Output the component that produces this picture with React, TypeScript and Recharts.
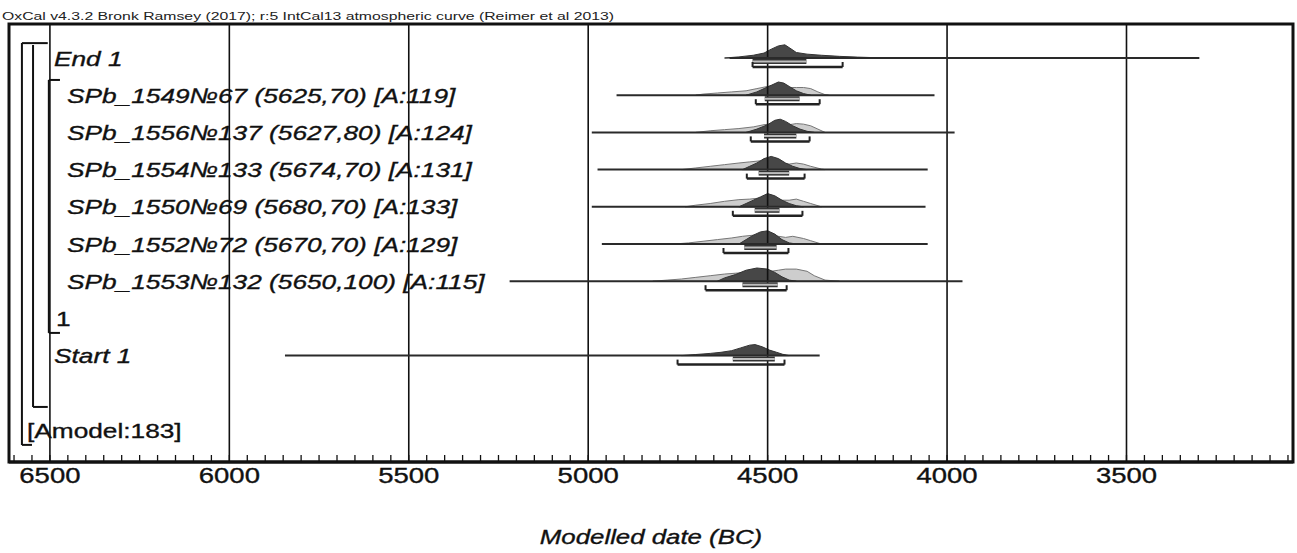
import React from 'react';
import { ComposedChart, Area, XAxis, YAxis, ReferenceLine, ReferenceArea } from 'recharts';

// ---------- text ----------
const HEADER = 'OxCal v4.3.2 Bronk Ramsey (2017); r:5 IntCal13 atmospheric curve (Reimer et al 2013)';
const AXIS_TITLE = 'Modelled date (BC)';

// ---------- rows (y categories) ----------
const labelRows = [0, 1, 2, 3, 4, 5, 6, 7, 8, 10];
const rowLabels = [
  'End 1',
  'SPb_1549№67 (5625,70) [A:119]',
  'SPb_1556№137 (5627,80) [A:124]',
  'SPb_1554№133 (5674,70) [A:131]',
  'SPb_1550№69 (5680,70) [A:133]',
  'SPb_1552№72 (5670,70) [A:129]',
  'SPb_1553№132 (5650,100) [A:115]',
  '1',
  'Start 1',
  '[Amodel:183]',
];
const rowItalic = [true, true, true, true, true, true, true, false, true, false];
const rowIndent = [45, 58, 58, 58, 58, 58, 58, 47, 45, 18];

// ---------- axis ----------
const majorTicks = [6500, 6000, 5500, 5000, 4500, 4000, 3500];
const X_MIN = 3036;
const X_MAX = 6614;
const Y_MIN = -0.914;
const Y_MAX = 10.86;

// ---------- distributions: [year BC, relative density] ----------
const end1Post = [[4620, 0], [4580, 1], [4540, 2.5], [4510, 4.5], [4490, 8], [4470, 11], [4452, 12], [4438, 9], [4420, 5], [4390, 3.5], [4350, 2.5], [4300, 1.5], [4250, 0.8], [4200, 0.3], [4150, 0]];

const s1549Like = [[4700, 0], [4680, 1], [4640, 2], [4600, 3], [4560, 4], [4530, 6], [4500, 8], [4480, 9], [4460, 8], [4440, 7], [4420, 7], [4400, 7], [4380, 6], [4360, 3], [4340, 0.5], [4330, 0]];
const s1549Post = [[4560, 0], [4530, 3], [4510, 6], [4490, 9], [4470, 12], [4455, 11], [4440, 8], [4420, 4], [4400, 1.5], [4380, 0]];

const s1556Like = [[4700, 0], [4660, 1.5], [4620, 2.5], [4580, 3.5], [4540, 5], [4510, 7], [4480, 8], [4460, 8], [4440, 7], [4420, 8], [4400, 7.5], [4380, 6], [4360, 3], [4340, 0]];
const s1556Post = [[4560, 0], [4530, 3], [4500, 7], [4480, 11], [4465, 12], [4450, 10], [4430, 6], [4410, 3], [4390, 1], [4370, 0]];

const s1554Like = [[4740, 0], [4700, 1.5], [4660, 3], [4620, 4.5], [4580, 6], [4550, 7], [4520, 8], [4500, 8.5], [4480, 8], [4460, 6], [4440, 5], [4420, 6], [4400, 5], [4380, 3], [4350, 0.5], [4340, 0]];
const s1554Post = [[4570, 0], [4550, 3], [4530, 6], [4510, 10], [4490, 12], [4470, 10], [4450, 6], [4430, 3], [4410, 1], [4390, 0]];

const s1550Like = [[4730, 0], [4700, 1.5], [4660, 3], [4620, 5], [4580, 6.5], [4550, 7], [4520, 8], [4500, 9], [4480, 8], [4460, 6], [4440, 6], [4420, 7], [4400, 5], [4380, 3], [4350, 0]];
const s1550Post = [[4580, 0], [4560, 3], [4540, 6], [4520, 9], [4500, 12], [4480, 10], [4460, 6], [4440, 3], [4420, 1], [4400, 0]];

const s1552Like = [[4760, 0], [4720, 1], [4680, 2.5], [4640, 4], [4600, 5.5], [4570, 7], [4540, 8], [4510, 8.5], [4490, 8], [4470, 7], [4450, 6], [4430, 7], [4400, 5], [4380, 3], [4350, 0]];
const s1552Post = [[4580, 0], [4560, 4], [4540, 8], [4520, 11], [4500, 12], [4480, 9], [4460, 4], [4440, 1], [4420, 0]];

const s1553Like = [[4820, 0], [4780, 1], [4740, 2], [4700, 3.5], [4660, 5], [4620, 6.5], [4580, 7.5], [4550, 8], [4520, 8.5], [4490, 9], [4470, 10], [4450, 11], [4420, 11], [4390, 9], [4370, 5], [4340, 1], [4300, 0]];
const s1553Post = [[4640, 0], [4620, 3], [4590, 6], [4560, 10], [4530, 12], [4500, 11], [4480, 8], [4460, 4], [4440, 1], [4420, 0]];

const start1Post = [[4740, 0], [4700, 1], [4660, 2], [4630, 3], [4600, 4.5], [4575, 7], [4550, 9.5], [4535, 10], [4515, 8], [4495, 5], [4475, 3], [4458, 1.2], [4440, 0]];

const distRows = [0, 1, 2, 3, 4, 5, 6, 8];
const likelihoods = [null, s1549Like, s1556Like, s1554Like, s1550Like, s1552Like, s1553Like, null];
const posteriors = [end1Post, s1549Post, s1556Post, s1554Post, s1550Post, s1552Post, s1553Post, start1Post];

// ---------- ranges (years BC) ----------
const fullFrom = [4606, 4921, 4990, 4974, 4990, 4962, 5219, 5845];
const fullTo = [3297, 4035, 3979, 4054, 4060, 4054, 3957, 4355];
const r68From = [4542, 4508, 4510, 4525, 4536, 4565, 4570, 4597];
const r68To = [4392, 4411, 4420, 4440, 4467, 4475, 4472, 4480];
const r95From = [4542, 4533, 4547, 4558, 4597, 4623, 4673, 4751];
const r95To = [4291, 4355, 4383, 4397, 4403, 4442, 4447, 4453];

// ---------- model structure brackets: [year, row] pairs ----------
const structureSegments = [
  [[6578, -0.40], [6578, 10.40]],
  [[6578, 10.40], [6550, 10.40]],
  [[6578, -0.40], [6506, -0.40]],
  [[6547, -0.35], [6547, 9.38]],
  [[6547, 9.38], [6506, 9.38]],
  [[6503, 0.59], [6503, 7.39]],
  [[6503, 0.59], [6472, 0.59]],
  [[6503, 7.39], [6472, 7.39]],
];

// ---------- styling ----------
const PX_PER_ROW = 37.2;
const DENS_SCALE = 1.1 / PX_PER_ROW;
const OFF68 = 3.5 / PX_PER_ROW;
const OFF95 = 9 / PX_PER_ROW;
const TICKUP = 5 / PX_PER_ROW;
const SX = 1.25;
const FONT = "'Liberation Sans', Arial, sans-serif";
const TEXT_STROKE = 0.35;

const minorTicks: number[] = [];
for (let v = 3050; v <= 6600; v += 50) minorTicks.push(v);

const toBand = (pts: number[][], row: number) =>
  pts.map(([yr, h]) => ({ yr, band: [row, row - h * DENS_SCALE] }));

const RowTick = (props: any) => {
  const { x, y, payload } = props;
  const i = labelRows.indexOf(payload.value);
  if (i < 0) return <g />;
  return (
    <g transform={`translate(${x + rowIndent[i]},${y})`}>
      <text
        transform={`scale(${SX},1)`}
        dy="0.36em"
        textAnchor="start"
        fontFamily={FONT}
        fontSize={21}
        fontStyle={rowItalic[i] ? 'italic' : 'normal'}
        fill="#111"
        stroke="#111"
        strokeWidth={TEXT_STROKE}
      >
        {rowLabels[i]}
      </text>
    </g>
  );
};

const XTick = (props: any) => {
  const { x, y, payload } = props;
  if (!majorTicks.includes(payload.value)) return <g />;
  return (
    <g transform={`translate(${x},${y + 28})`}>
      <text
        transform={`scale(${SX},1)`}
        textAnchor="middle"
        fontFamily={FONT}
        fontSize={22}
        fill="#111"
        stroke="#111"
        strokeWidth={TEXT_STROKE}
      >
        {payload.value}
      </text>
    </g>
  );
};

export default function App() {
  const lineStroke = '#2a2a2a';
  return (
    <div style={{ position: 'absolute', left: 0, top: 0, width: 1297, height: 553, background: '#fff' }}>
      <svg width={1297} height={553} style={{ position: 'absolute', left: 0, top: 0 }}>
        <text x={2} y={20} fontFamily={FONT} fontSize={10} textLength={612} lengthAdjust="spacingAndGlyphs" fill="#222">
          {HEADER}
        </text>
        <g transform="translate(651,544)">
          <text
            transform="scale(1.23,1)"
            textAnchor="middle"
            fontFamily={FONT}
            fontSize={21}
            fontStyle="italic"
            fill="#111"
            stroke="#111"
            strokeWidth={TEXT_STROKE}
          >
            {AXIS_TITLE}
          </text>
        </g>
      </svg>
      <div style={{ position: 'absolute', left: 0, top: 0 }}>
        <ComposedChart width={1297} height={553} margin={{ top: 24, right: 4, bottom: 91, left: 0 }}>
          <XAxis
            dataKey="yr"
            type="number"
            domain={[X_MIN, X_MAX]}
            reversed
            allowDataOverflow
            ticks={minorTicks}
            interval={0}
            mirror
            tickSize={7}
            tickMargin={0}
            tickLine={{ stroke: '#111', strokeWidth: 1.3 }}
            axisLine={{ stroke: '#111', strokeWidth: 3 }}
            tick={<XTick />}
            height={91}
          />
          <YAxis
            type="number"
            domain={[Y_MIN, Y_MAX]}
            reversed
            allowDataOverflow
            ticks={labelRows}
            interval={0}
            width={9}
            axisLine={false}
            tickLine={false}
            tickSize={0}
            tickMargin={0}
            tick={<RowTick />}
          />
          {likelihoods.map((pts, i) =>
            pts ? (
              <Area
                key={`l${i}`}
                data={toBand(pts, distRows[i])}
                dataKey="band"
                type="linear"
                stroke="#777"
                strokeWidth={1}
                fill="#cdcdcd"
                fillOpacity={1}
                dot={false}
                activeDot={false}
                isAnimationActive={false}
              />
            ) : null
          )}
          {posteriors.map((pts, i) => (
            <Area
              key={`p${i}`}
              data={toBand(pts, distRows[i])}
              dataKey="band"
              type="linear"
              stroke="#333"
              strokeWidth={1}
              fill="#474747"
              fillOpacity={1}
              dot={false}
              activeDot={false}
              isAnimationActive={false}
            />
          ))}
          {majorTicks.map((v) => (
            <ReferenceLine key={`g${v}`} x={v} stroke="#111" strokeWidth={1.6} ifOverflow="visible" />
          ))}
          {distRows.map((r, i) => (
            <ReferenceLine
              key={`f${i}`}
              segment={[{ x: fullFrom[i], y: r }, { x: fullTo[i], y: r }]}
              stroke={lineStroke}
              strokeWidth={2}
              ifOverflow="visible"
            />
          ))}
          {distRows.map((r, i) => (
            <ReferenceLine
              key={`a${i}`}
              segment={[{ x: r68From[i], y: r + OFF68 }, { x: r68To[i], y: r + OFF68 }]}
              stroke="#333"
              strokeWidth={5}
              ifOverflow="visible"
            />
          ))}
          {distRows.map((r, i) => (
            <ReferenceLine
              key={`b${i}`}
              segment={[{ x: r68From[i], y: r + OFF68 }, { x: r68To[i], y: r + OFF68 }]}
              stroke="#bdbdbd"
              strokeWidth={2}
              ifOverflow="visible"
            />
          ))}
          {distRows.map((r, i) => (
            <ReferenceLine
              key={`c${i}`}
              segment={[{ x: r95From[i], y: r + OFF95 }, { x: r95To[i], y: r + OFF95 }]}
              stroke="#222"
              strokeWidth={2.5}
              ifOverflow="visible"
            />
          ))}
          {distRows.map((r, i) => (
            <ReferenceLine
              key={`d${i}`}
              segment={[{ x: r95From[i], y: r + OFF95 }, { x: r95From[i], y: r + OFF95 - TICKUP }]}
              stroke="#222"
              strokeWidth={2}
              ifOverflow="visible"
            />
          ))}
          {distRows.map((r, i) => (
            <ReferenceLine
              key={`e${i}`}
              segment={[{ x: r95To[i], y: r + OFF95 }, { x: r95To[i], y: r + OFF95 - TICKUP }]}
              stroke="#222"
              strokeWidth={2}
              ifOverflow="visible"
            />
          ))}
          {structureSegments.map((s, i) => (
            <ReferenceLine
              key={`s${i}`}
              segment={[{ x: s[0][0], y: s[0][1] }, { x: s[1][0], y: s[1][1] }]}
              stroke="#111"
              strokeWidth={2}
              ifOverflow="visible"
            />
          ))}
          <ReferenceArea
            x1={X_MIN}
            x2={X_MAX}
            y1={Y_MIN}
            y2={Y_MAX}
            fill="none"
            stroke="#111"
            strokeWidth={3}
            ifOverflow="visible"
          />
        </ComposedChart>
      </div>
    </div>
  );
}
